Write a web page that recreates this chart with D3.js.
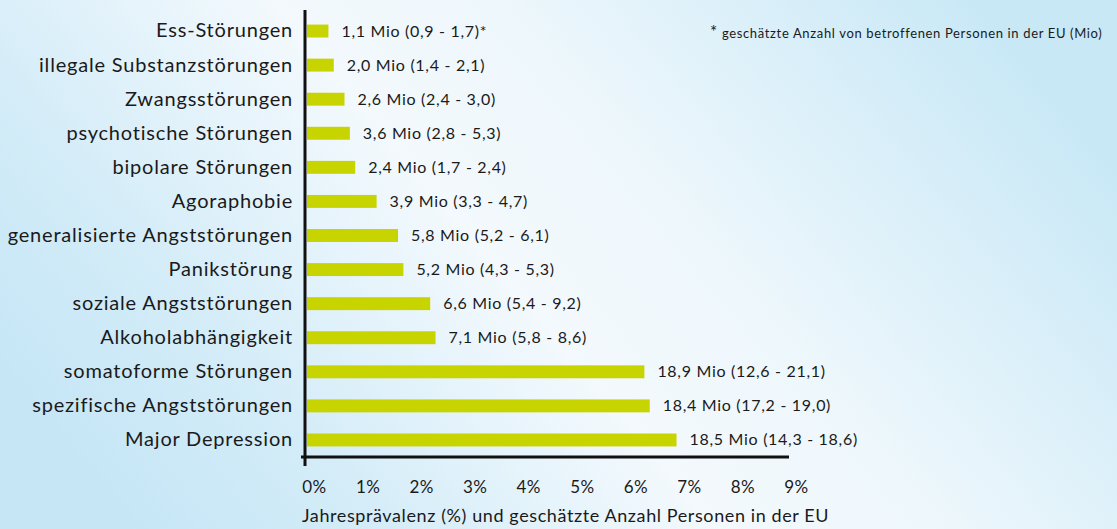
<!DOCTYPE html>
<html>
<head>
<meta charset="utf-8">
<script src="https://cdn.jsdelivr.net/npm/d3@7"></script>
<style>
  html, body { margin: 0; padding: 0; }
  svg { display: block; }
  text { font-family: "Lato", "Open Sans", sans-serif; fill: #1a1a1a; }
</style>
</head>
<body>
<svg id="chart" width="1117" height="529"></svg>
<script>
const categories = [
  "Ess-Störungen",
  "illegale Substanzstörungen",
  "Zwangsstörungen",
  "psychotische Störungen",
  "bipolare Störungen",
  "Agoraphobie",
  "generalisierte Angststörungen",
  "Panikstörung",
  "soziale Angststörungen",
  "Alkoholabhängigkeit",
  "somatoforme Störungen",
  "spezifische Angststörungen",
  "Major Depression"
];
const prevalence = [0.4, 0.5, 0.7, 0.8, 0.9, 1.3, 1.7, 1.8, 2.3, 2.4, 6.3, 6.4, 6.9];
const valueLabels = [
  "1,1 Mio (0,9 - 1,7)*",
  "2,0 Mio (1,4 - 2,1)",
  "2,6 Mio (2,4 - 3,0)",
  "3,6 Mio (2,8 - 5,3)",
  "2,4 Mio (1,7 - 2,4)",
  "3,9 Mio (3,3 - 4,7)",
  "5,8 Mio (5,2 - 6,1)",
  "5,2 Mio (4,3 - 5,3)",
  "6,6 Mio (5,4 - 9,2)",
  "7,1 Mio (5,8 - 8,6)",
  "18,9 Mio (12,6 - 21,1)",
  "18,4 Mio (17,2 - 19,0)",
  "18,5 Mio (14,3 - 18,6)"
];
const tickValues = [0, 1, 2, 3, 4, 5, 6, 7, 8, 9];
const tickLabels = ["0%", "1%", "2%", "3%", "4%", "5%", "6%", "7%", "8%", "9%"];
const axisTitle = "Jahresprävalenz (%) und geschätzte Anzahl Personen in der EU";
const footnote = "geschätzte Anzahl von betroffenen Personen in der EU (Mio)";

const svg = d3.select("#chart");
const W = 1117, H = 529;
const FONT = '"Lato", "Open Sans", sans-serif';

// background gradient
const defs = svg.append("defs");
const grad = defs.append("linearGradient").attr("id", "bg")
  .attr("x1", "0%").attr("y1", "70%").attr("x2", "100%").attr("y2", "30%");
grad.append("stop").attr("offset", "0%").attr("stop-color", "#c6e6f6");
grad.append("stop").attr("offset", "18%").attr("stop-color", "#d3ecf8");
grad.append("stop").attr("offset", "45%").attr("stop-color", "#f3f9fd");
grad.append("stop").attr("offset", "62%").attr("stop-color", "#eef7fc");
grad.append("stop").attr("offset", "100%").attr("stop-color", "#c8e8f6");
svg.append("rect").attr("width", W).attr("height", H).attr("fill", "url(#bg)");

const x = d3.scaleLinear().domain([0, 9]).range([307, 789]);
const y = d3.scaleBand().domain(categories).range([14, 457]).paddingInner(0.62).paddingOuter(0.31);

const data = categories.map((c, i) => ({ c, v: prevalence[i], label: valueLabels[i] }));

// bars
svg.append("g").selectAll("rect").data(data).join("rect")
  .attr("x", x(0))
  .attr("y", d => y(d.c))
  .attr("width", d => x(d.v) - x(0))
  .attr("height", y.bandwidth())
  .attr("fill", "#c8d400");

// value labels
svg.append("g").selectAll("text").data(data).join("text")
  .attr("x", d => x(d.v) + 13)
  .attr("y", d => y(d.c) + y.bandwidth() / 2 + 5.5)
  .attr("font-size", 16)
  .attr("letter-spacing", 0.7)
  .text(d => d.label);

// category labels
const yAxis = d3.axisLeft(y).tickSize(0).tickPadding(12);
const yg = svg.append("g").attr("transform", `translate(${x(0) - 2},0)`).call(yAxis);
yg.select(".domain").remove();
yg.selectAll("text").attr("font-size", 20).attr("fill", "#1a1a1a")
  .attr("letter-spacing", 0.8)
  .style("font-family", FONT);

// axis lines
svg.append("line").attr("x1", 305).attr("x2", 305).attr("y1", 10).attr("y2", 466)
  .attr("stroke", "#111").attr("stroke-width", 3);
svg.append("line").attr("x1", 301).attr("x2", x(9)).attr("y1", 457).attr("y2", 457)
  .attr("stroke", "#111").attr("stroke-width", 3);

// x tick labels
const xAxis = d3.axisBottom(x).tickValues(tickValues).tickFormat((d, i) => tickLabels[i]).tickSize(0).tickPadding(0);
const xg = svg.append("g").attr("transform", "translate(7,481)").call(xAxis);
xg.select(".domain").remove();
xg.selectAll("text").attr("font-size", 17).attr("fill", "#1a1a1a")
  .attr("letter-spacing", 0.4)
  .style("font-family", FONT);

// axis title
svg.append("text").attr("x", 302).attr("y", 522).attr("font-size", 18)
  .attr("letter-spacing", 0.6).text(axisTitle);

// footnote
const fn = svg.append("text").attr("x", 710).attr("y", 38).attr("font-size", 13).attr("letter-spacing", 0.65);
fn.append("tspan").attr("font-size", 17).text("*");
fn.append("tspan").attr("dx", 4).text(footnote);
</script>
</body>
</html>
